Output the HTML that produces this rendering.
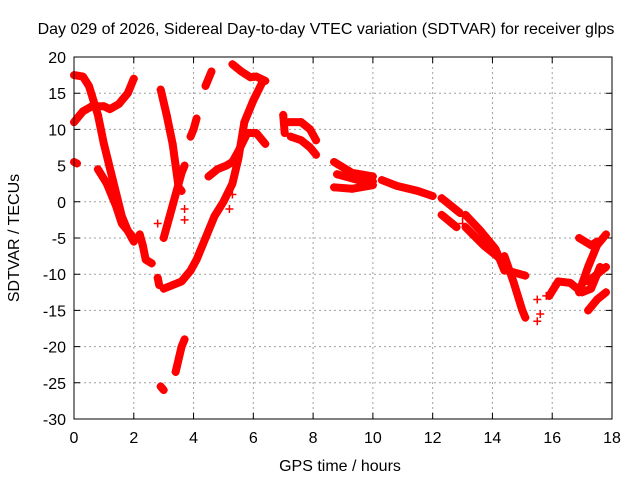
<!DOCTYPE html>
<html><head><meta charset="utf-8"><style>
body{margin:0;background:#fff}
svg text{font-family:"Liberation Sans",sans-serif;font-size:16px;fill:#000}
</style></head><body>
<svg id="chart" width="640" height="480" xmlns="http://www.w3.org/2000/svg">
<rect width="640" height="480" fill="#fff"/>
<g id="grid"></g>
<g id="ticks"></g>
<g id="series"></g>
<rect x="74" y="57" width="538" height="362" fill="none" stroke="#000" stroke-width="1"/>
<text x="326" y="34" text-anchor="middle">Day 029 of 2026, Sidereal Day-to-day VTEC variation (SDTVAR) for receiver glps</text>
<text x="340" y="471" text-anchor="middle">GPS time / hours</text>
<text transform="translate(19,238) rotate(-90)" text-anchor="middle">SDTVAR / TECUs</text>
</svg>
<script>
const xTicks=[0,2,4,6,8,10,12,14,16,18];
const yTicks=[-30,-25,-20,-15,-10,-5,0,5,10,15,20];
const t1=[[0,17.5],[0.3,17.3],[0.5,16],[0.8,12],[1.0,8],[1.3,3],[1.6,-2],[1.8,-4],[2.0,-5]];
const t2=[[0,11],[0.3,12.5],[0.6,13.2],[1.0,13.2],[1.2,12.8],[1.5,13.5],[1.8,15],[2.0,17]];
const t3=[[0,5.5],[0.1,5.3]];
const t4=[[0.8,4.5],[1.1,2.5],[1.4,-0.5],[1.6,-3],[1.8,-4],[2.0,-5.5]];
const t5=[[2.2,-4.5],[2.3,-6],[2.4,-8],[2.6,-8.5]];
const t6=[[2.8,-10.5],[2.85,-11.5]];
const t7=[[3.0,-12],[3.3,-11.5],[3.6,-11],[3.9,-9.5],[4.1,-8],[4.3,-6],[4.5,-4],[4.7,-2],[5.0,0],[5.3,2.5],[5.5,6],[5.7,11],[6.0,14],[6.3,16.5]];
const t8=[[5.3,19],[5.6,18],[5.9,17.2],[6.1,17.3],[6.4,16.7]];
const t9=[[2.9,15.5],[3.1,12],[3.3,8],[3.4,5],[3.5,2],[3.6,1.5]];
const t10=[[3.0,-5],[3.2,-2],[3.4,1],[3.6,4],[3.7,5]];
const t11=[[3.9,9],[4.0,10],[4.1,11.5]];
const t12=[[4.4,16],[4.6,18]];
const t13=[[4.5,3.5],[4.8,4.5],[5.1,5],[5.3,5.5],[5.5,7],[5.8,9.5],[6.1,9.5],[6.3,8.5],[6.4,8]];
const t14=[[3.4,-23.5],[3.6,-20],[3.7,-19]];
const t15=[[2.9,-25.5],[3.0,-26]];
const t16=[[2.8,-3],[5.2,-1],[5.3,1],[3.7,-1],[3.7,-2.5]];
const t17=[[7.0,12],[7.05,9.5]];
const t18=[[7.2,11],[7.6,11],[7.9,10],[8.1,8.5]];
const t19=[[7.25,9.0],[7.6,8.5],[7.9,7.5],[8.1,6.5]];
const t20=[[8.7,5.5],[9.3,4],[10.0,3.5]];
const t21=[[8.7,2.0],[9.3,1.8],[10.0,2.3]];
const t22=[[8.8,3.8],[9.5,3],[10.0,2.8]];
const t23=[[10.3,3],[10.8,2.2],[11.5,1.5],[12.0,0.8]];
const t24=[[12.3,0.5],[12.9,-1.5]];
const t25=[[12.3,-1.8],[12.8,-3.5]];
const t26=[[13.1,-1.8],[13.6,-4],[14.1,-6.5],[14.4,-9.5]];
const t27=[[13.1,-3.5],[13.7,-6],[14.3,-8]];
const t28=[[14.4,-7.5],[14.7,-11],[15.0,-15],[15.1,-16]];
const t29=[[14.5,-9.5],[15.1,-10.2]];
const t30=[[15.9,-13],[16.2,-11],[16.6,-11.2],[17.0,-12.5],[17.3,-12],[17.6,-9]];
const t31=[[16.9,-12.5],[17.2,-9],[17.5,-6],[17.8,-4.5]];
const t32=[[16.9,-5],[17.3,-6],[17.5,-5.5]];
const t33=[[17.2,-15],[17.5,-13.5],[17.8,-12.5]];
const t34=[[17.2,-11],[17.8,-9]];
const t35=[[13.0,-2],[13.0,-3],[15.5,-16.5],[15.6,-15.5],[15.5,-13.5],[15.8,-13]];
const tracks=[t1,t2,t3,t4,t5,t6,t7,t8,t9,t10,t11,t12,t13,t14,t15,t17,t18,t19,t20,t21,t22,t23,t24,t25,t26,t27,t28,t29,t30,t31,t32,t33,t34];
const loose=[t16,t35];
const NS="http://www.w3.org/2000/svg";
const X=h=>74+h*538/18, Y=v=>57+(20-v)*362/50;
function mk(tag,attrs,parent){const e=document.createElementNS(NS,tag);for(const k in attrs)e.setAttribute(k,attrs[k]);parent.appendChild(e);return e;}
const grid=document.getElementById('grid'),ticks=document.getElementById('ticks'),series=document.getElementById('series');
xTicks.forEach(t=>{const x=X(t);
 if(t>0&&t<18){const g=mk('line',{x1:x,x2:x,y1:57,y2:419,stroke:'#a0a0a0','stroke-dasharray':'2,3'},grid);}
 const tk=mk('path',{d:`M${x},419v-6M${x},57v6`,stroke:'#000'},ticks);
 const tx=mk('text',{x:x,y:443,'text-anchor':'middle'},ticks);tx.textContent=t;
 
 });
yTicks.forEach(t=>{const y=Y(t);
 if(t>-30&&t<20){const g=mk('line',{x1:74,x2:612,y1:y,y2:y,stroke:'#a0a0a0','stroke-dasharray':'2,3'},grid);}
 const tk=mk('path',{d:`M74,${y}h6M612,${y}h-6`,stroke:'#000'},ticks);
 const tx=mk('text',{x:66,y:y+6,'text-anchor':'end'},ticks);tx.textContent=t;
 
 });
function plus(p){const x=X(p[0]),y=Y(p[1]);const m=mk('path',{d:`M${x-4},${y}h8M${x},${y-4}v8`,stroke:'#f00','stroke-width':1.5},series);
 
 }
tracks.forEach(tr=>{const l=mk('polyline',{points:tr.map(p=>X(p[0])+','+Y(p[1])).join(' '),fill:'none',stroke:'#f00','stroke-width':8,'stroke-linejoin':'round','stroke-linecap':'round'},series);
 
 
 tr.forEach(plus);});
loose.forEach(tr=>tr.forEach(plus));
</script>
</body></html>
